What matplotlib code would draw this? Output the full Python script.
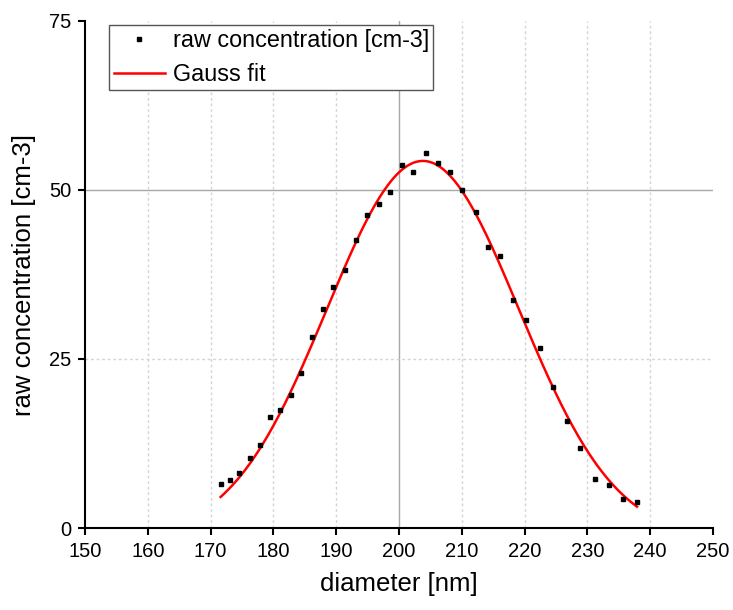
import numpy as np
import matplotlib
matplotlib.use("Agg")
import matplotlib.pyplot as plt

plt.rcParams['font.family'] = ['Liberation Sans', 'DejaVu Sans']

# raw data points
diameter = [171.6, 173.1, 174.6, 176.3, 177.9, 179.5, 181.1, 182.8, 184.4, 186.2,
            187.9, 189.5, 191.4, 193.2, 194.9, 196.8, 198.6, 200.5, 202.3, 204.3,
            206.2, 208.1, 210.1, 212.2, 214.1, 216.1, 218.1, 220.3, 222.4, 224.6,
            226.7, 228.9, 231.2, 233.4, 235.6, 237.9]
concentration = [6.5, 7.1, 8.1, 10.3, 12.3, 16.4, 17.5, 19.7, 23.0, 28.2,
                 32.4, 35.7, 38.2, 42.6, 46.3, 48.0, 49.7, 53.7, 52.6, 55.5,
                 54.0, 52.7, 50.0, 46.7, 41.5, 40.2, 33.7, 30.7, 26.6, 20.9,
                 15.9, 11.8, 7.2, 6.3, 4.3, 3.8]

# Gauss fit parameters (estimated from the drawn curve)
fit_y0 = -1.5
fit_amp = 55.8
fit_xc = 203.8
fit_sigma = 15.3

xticks = [150, 160, 170, 180, 190, 200, 210, 220, 230, 240, 250]
yticks = [0, 25, 50, 75]

fig = plt.figure(figsize=(7.33, 6.10), dpi=100)
ax = fig.add_axes([85 / 733, 82 / 610, 628 / 733, 507 / 610])

# grid: solid at every 50, dotted elsewhere
for x in xticks[1:-1]:
    if x % 50 == 0:
        ax.axvline(x, color='#a8a8a8', lw=1.0, zorder=0)
    else:
        ax.axvline(x, color='#d4d4d4', lw=1.0, ls=(0, (2, 2)), zorder=0)
for y in yticks[1:-1]:
    if y % 50 == 0:
        ax.axhline(y, color='#a8a8a8', lw=1.0, zorder=0)
    else:
        ax.axhline(y, color='#d4d4d4', lw=1.0, ls=(0, (2, 2)), zorder=0)

xfit = np.linspace(min(diameter), max(diameter), 300)
yfit = fit_y0 + fit_amp * np.exp(-(xfit - fit_xc) ** 2 / (2 * fit_sigma ** 2))

ax.plot(diameter, concentration, ls='none', marker='s', ms=3.5, color='black',
        label='raw concentration [cm-3]', zorder=3)
ax.plot(xfit, yfit, color='red', lw=1.8, label='Gauss fit', zorder=2)

ax.set_xlim(150, 250)
ax.set_ylim(0, 75)
ax.set_xticks(xticks)
ax.set_yticks(yticks)

ax.spines['top'].set_visible(False)
ax.spines['right'].set_visible(False)
ax.spines['left'].set_linewidth(1.5)
ax.spines['bottom'].set_linewidth(1.5)
ax.tick_params(direction='out', length=5, width=1.5, labelsize=14.5, pad=5)

ax.set_xlabel('diameter [nm]', fontsize=18.5, labelpad=8)
ax.set_ylabel('raw concentration [cm-3]', fontsize=18.5, labelpad=9)

leg = ax.legend(loc='upper left', bbox_to_anchor=(0.0387, 0.992), borderaxespad=0,
                fontsize=16.8, fancybox=False, framealpha=1, edgecolor='#555555',
                handlelength=2.2, handletextpad=0.35, borderpad=0.18,
                labelspacing=0.45, markerscale=1.0)
leg.get_frame().set_linewidth(1.0)

fig.savefig('out.png', dpi=100)
